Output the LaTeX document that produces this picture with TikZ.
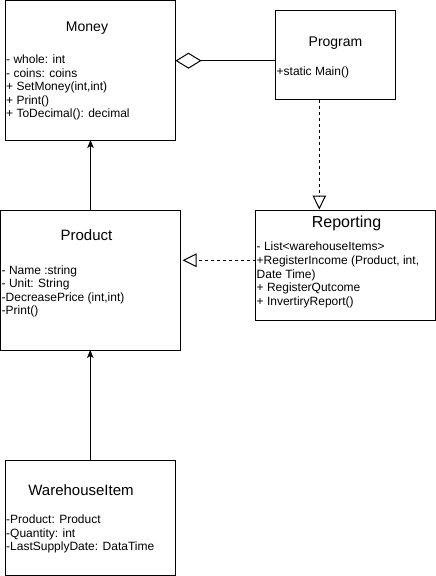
\documentclass[tikz,border=0pt]{standalone}
\usepackage{fontspec}
\setmainfont{Liberation Sans}
\usetikzlibrary{arrows.meta}
\begin{document}
\begin{tikzpicture}[x=1pt,y=-1pt,
  box/.style={draw=black,line width=1pt,rectangle,inner sep=0pt,outer sep=0pt,anchor=north west},
  title/.style={anchor=base,inner sep=0pt},
  attr/.style={anchor=base west,inner sep=0pt,font=\fontsize{12}{13.6}\selectfont},
  conn/.style={line width=1pt},
  inherit/.style={conn,-{Stealth[length=8pt,width=6.5pt,inset=2pt]}},
  realize/.style={conn,dash pattern=on 3pt off 3pt,-{Triangle[open,length=14pt,width=13.5pt,line width=1pt]}},
  aggr/.style={conn,-{Diamond[open,length=26pt,width=16pt,line width=1pt]}}
]
\useasboundingbox (0,0) rectangle (436,576);

% boxes
\node[box,minimum width=170.5pt,minimum height=139.5pt] (money) at (5,0.5) {};
\node[box,minimum width=120pt,minimum height=89pt] (program) at (275.5,10.5) {};
\node[box,minimum width=180pt,minimum height=109.5pt] (reporting) at (255.5,210.5) {};
\node[box,minimum width=180pt,minimum height=139.5pt] (product) at (0.5,210.5) {};
\node[box,minimum width=170.5pt,minimum height=114.5pt] (wh) at (5,460.5) {};

% Money
\node[title,font=\fontsize{14}{16}\selectfont] (moneyt) at (87,31) {Money};
\node[attr] (m1) at (6,63.5) {- whole: int};
\node[attr] (m2) at (6,77.1) {- coins: coins};
\node[attr] (m3) at (6,90.7) {+ SetMoney(int,int)};
\node[attr] (m4) at (6,104.3) {+ Print()};
\node[attr] (m5) at (6,117.9) {+ ToDecimal(): decimal};

% Program
\node[title,font=\fontsize{14}{16}\selectfont] (programt) at (335.5,46) {Program};
\node[attr] (p1) at (276.5,75) {+static Main()};

% Reporting
\node[title,font=\fontsize{16}{18}\selectfont] (reportingt) at (346.5,227.5) {Reporting};
\node[attr] (r1) at (256.5,250.8) {- List<warehouseItems>};
\node[attr] (r2) at (256.5,264.4) {+RegisterIncome (Product, int,};
\node[attr] (r3) at (256.5,278) {Date Time)};
\node[attr] (r4) at (256.5,291.6) {+ RegisterQutcome};
\node[attr] (r5) at (256.5,305.2) {+ InvertiryReport()};

% Product
\node[title,font=\fontsize{15}{17}\selectfont] (productt) at (86.5,240.5) {Product};
\node[attr] (d1) at (1.5,274) {- Name :string};
\node[attr] (d2) at (1.5,287.6) {- Unit: String};
\node[attr] (d3) at (1.5,301.2) {-DecreasePrice (int,int)};
\node[attr] (d4) at (1.5,314.8) {-Print()};

% WarehouseItem
\node[title,font=\fontsize{15}{17}\selectfont] (wht) at (81,495) {WarehouseItem};
\node[attr] (w1) at (6,523.5) {-Product: Product};
\node[attr] (w2) at (6,537.1) {-Quantity: int};
\node[attr] (w3) at (6,550.7) {-LastSupplyDate: DataTime};

% connectors
\draw[inherit] (product.north) -- (product.north |- money.south);
\draw[inherit] (wh.north) -- (wh.north |- product.south);
\draw[aggr] ([yshift=-5.7pt]program.west) coordinate (pa) -- (pa -| money.east);
\draw[realize] ([xshift=-16.2pt]program.south) coordinate (pb) -- ([yshift=1pt]pb |- reporting.north);
\draw[realize] ([yshift=5pt]reporting.west) coordinate (pc) -- ([xshift=2pt]pc -| product.east);
\end{tikzpicture}
\end{document}
